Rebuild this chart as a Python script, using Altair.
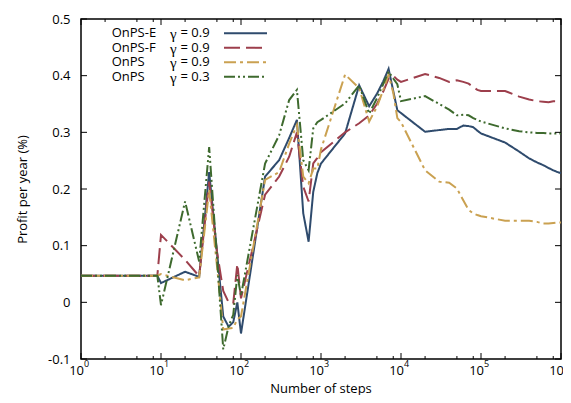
import altair as alt
import pandas as pd

# ---------------- data ----------------
steps = [1, 2, 3, 4, 5, 6, 7, 8, 9,
         10, 20, 30, 40, 50, 60, 70, 80, 90,
         100, 200, 300, 400, 500, 600, 700, 800, 900,
         1000, 2000, 3000, 4000, 5000, 6000, 7000, 8000, 9000,
         10000, 20000, 30000, 40000, 50000, 60000, 70000, 80000, 90000,
         100000, 200000, 300000, 400000, 500000, 600000, 700000, 800000, 900000,
         1000000]

onps_e_g09 = [0.047] * 9 + [
    0.034, 0.054, 0.045, 0.230, 0.090, -0.025, -0.043, -0.035, 0.000,
    -0.055, 0.222, 0.251, 0.290, 0.322, 0.157, 0.107, 0.195, 0.228,
    0.245, 0.298, 0.383, 0.346, 0.368, 0.390, 0.412, 0.373, 0.339,
    0.334, 0.301, 0.304, 0.306, 0.306, 0.312, 0.311, 0.309, 0.303,
    0.298, 0.282, 0.266, 0.254, 0.247, 0.242, 0.237, 0.233, 0.230,
    0.228]

onps_f_g09 = [0.047] * 9 + [
    0.119, 0.075, 0.046, 0.213, 0.090, 0.020, 0.000, -0.002, 0.068,
    0.007, 0.190, 0.222, 0.257, 0.300, 0.204, 0.178, 0.245, 0.255,
    0.265, 0.300, 0.316, 0.330, 0.350, 0.372, 0.395, 0.400, 0.393,
    0.389, 0.403, 0.396, 0.389, 0.392, 0.389, 0.386, 0.380, 0.375,
    0.373, 0.373, 0.363, 0.358, 0.355, 0.354, 0.353, 0.355, 0.355,
    0.355]

onps_g09 = [0.047] * 9 + [
    0.050, 0.039, 0.044, 0.198, 0.065, -0.048, -0.046, -0.045, -0.030,
    -0.025, 0.216, 0.230, 0.280, 0.313, 0.222, 0.210, 0.236, 0.236,
    0.270, 0.402, 0.378, 0.319, 0.345, 0.375, 0.402, 0.370, 0.325,
    0.318, 0.233, 0.213, 0.211, 0.201, 0.180, 0.163, 0.157, 0.154,
    0.152, 0.144, 0.144, 0.144, 0.142, 0.139, 0.139, 0.140, 0.141,
    0.141]

onps_g03 = [0.047] * 9 + [
    -0.005, 0.178, 0.072, 0.274, 0.080, -0.083, -0.042, -0.022, 0.048,
    0.012, 0.245, 0.295, 0.357, 0.375, 0.251, 0.233, 0.307, 0.318,
    0.322, 0.351, 0.383, 0.333, 0.360, 0.385, 0.407, 0.395, 0.385,
    0.355, 0.364, 0.350, 0.340, 0.330, 0.331, 0.330, 0.325, 0.322,
    0.319, 0.307, 0.302, 0.300, 0.299, 0.299, 0.298, 0.298, 0.298,
    0.298]

series_keys = ["OnPS-E 0.9", "OnPS-F 0.9", "OnPS 0.9", "OnPS 0.3"]
series_names = ["OnPS-E", "OnPS-F", "OnPS", "OnPS"]
series_gamma_values = ["= 0.9", "= 0.9", "= 0.9", "= 0.3"]
series_values = [onps_e_g09, onps_f_g09, onps_g09, onps_g03]
colors = ["#2f4b6d", "#9d3f4c", "#caa151", "#3e6a2e"]
dashes = [[1, 0], [16, 6], [12, 4, 3, 4], [11, 3, 2, 3, 2, 3]]

x_title = "Number of steps"
y_title = "Profit per year (%)"
x_major = [1, 10, 100, 1000, 10000, 100000, 1000000]
x_exponents = ["0", "1", "2", "3", "4", "5", "6"]
x_minor = [m * 10 ** k for k in range(6) for m in (2, 5, 8)]
y_ticks = [-0.1, 0.0, 0.1, 0.2, 0.3, 0.4, 0.5]

# ---------------- tables ----------------
rows = []
for key, vals in zip(series_keys, series_values):
    for i, (s, v) in enumerate(zip(steps, vals)):
        rows.append({"series": key, "steps": s, "value": v, "idx": i})
df = pd.DataFrame(rows)

legend_df = pd.DataFrame({
    "series": series_keys, "name": series_names,
    "gsym": ["γ"] * len(series_keys),
    "gval": series_gamma_values, "row": list(range(len(series_keys)))})
xmaj_df = pd.DataFrame({"t": x_major, "exp": x_exponents, "base": ["10"] * len(x_major)})
xmin_df = pd.DataFrame({"t": x_minor})
y_df = pd.DataFrame({"t": y_ticks})

FONT = "Open Sans"
W, H = 480, 340
xscale = alt.Scale(type="log", domain=[1, 1000000], nice=False)
yscale = alt.Scale(domain=[-0.1, 0.5], nice=False, zero=False)
cscale = alt.Scale(domain=series_keys, range=colors)
dscale = alt.Scale(domain=series_keys, range=dashes)

lines = alt.Chart(df).mark_line(strokeWidth=2, clip=True).encode(
    x=alt.X("steps:Q", scale=xscale, axis=None),
    y=alt.Y("value:Q", scale=yscale,
            axis=alt.Axis(values=y_ticks, ticks=False, domain=False, grid=False,
                          labelExpr="datum.value < 0 ? '-' + format(-datum.value, '.1f') : (datum.value == 0 ? '0' : format(datum.value, '.1f'))",
                          labelFont=FONT, labelFontSize=13, labelColor="black",
                          labelPadding=11,
                          title=y_title, titleFont=FONT,
                          titleFontSize=13, titleFontWeight="normal",
                          titleColor="black", titleX=-59, titleY=H / 2,
                          titleAngle=270, titleBaseline="middle",
                          titleAlign="center")),
    color=alt.Color("series:N", scale=cscale, legend=None),
    strokeDash=alt.StrokeDash("series:N", scale=dscale, legend=None),
    order=alt.Order("idx:Q"),
)

tick_col = "black"
xb_major = alt.Chart(xmaj_df).mark_rule(color=tick_col, strokeWidth=1).encode(
    x=alt.X("t:Q", scale=xscale, axis=None), y=alt.value(H), y2=alt.value(H - 6))
xt_major = alt.Chart(xmaj_df).mark_rule(color=tick_col, strokeWidth=1).encode(
    x=alt.X("t:Q", scale=xscale, axis=None), y=alt.value(0), y2=alt.value(6))
xb_minor = alt.Chart(xmin_df).mark_rule(color=tick_col, strokeWidth=1).encode(
    x=alt.X("t:Q", scale=xscale, axis=None), y=alt.value(H), y2=alt.value(H - 3))
xt_minor = alt.Chart(xmin_df).mark_rule(color=tick_col, strokeWidth=1).encode(
    x=alt.X("t:Q", scale=xscale, axis=None), y=alt.value(0), y2=alt.value(3))
yl_ticks = alt.Chart(y_df).mark_rule(color=tick_col, strokeWidth=1).encode(
    y=alt.Y("t:Q", scale=yscale, axis=None), x=alt.value(0), x2=alt.value(6))
yr_ticks = alt.Chart(y_df).mark_rule(color=tick_col, strokeWidth=1).encode(
    y=alt.Y("t:Q", scale=yscale, axis=None), x=alt.value(W), x2=alt.value(W - 6))

x_base = alt.Chart(xmaj_df).mark_text(align="right", baseline="alphabetic", dx=3,
                                      font=FONT, fontSize=13, color="black").encode(
    x=alt.X("t:Q", scale=xscale, axis=None), y=alt.value(H + 15.5), text="base:N")
x_exp = alt.Chart(xmaj_df).mark_text(align="left", baseline="alphabetic", dx=3,
                                     font=FONT, fontSize=9, color="black").encode(
    x=alt.X("t:Q", scale=xscale, axis=None), y=alt.value(H + 8), text="exp:N")
x_title_mark = alt.Chart(pd.DataFrame({"label": [x_title]})).mark_text(
    align="center", baseline="alphabetic", font=FONT, fontSize=13, color="black"
).encode(x=alt.value(W / 2), y=alt.value(H + 34), text="label:N")

row_scale = alt.Scale(domain=[0, 3], range=[14.3, 57.8])
leg_name = alt.Chart(legend_df).mark_text(align="left", baseline="middle",
                                          font=FONT, fontSize=13, color="black").encode(
    x=alt.value(30.7), y=alt.Y("row:Q", scale=row_scale, axis=None), text="name:N")
leg_gsym = alt.Chart(legend_df).mark_text(align="left", baseline="middle",
                                          font="Liberation Serif", fontSize=15,
                                          color="black", dy=1).encode(
    x=alt.value(89), y=alt.Y("row:Q", scale=row_scale, axis=None), text="gsym:N")
leg_gval = alt.Chart(legend_df).mark_text(align="left", baseline="middle",
                                          font=FONT, fontSize=13, color="black").encode(
    x=alt.value(99.5), y=alt.Y("row:Q", scale=row_scale, axis=None), text="gval:N")
leg_line = alt.Chart(legend_df).mark_rule(strokeWidth=2).encode(
    x=alt.value(143), x2=alt.value(186),
    y=alt.Y("row:Q", scale=row_scale, axis=None),
    color=alt.Color("series:N", scale=cscale, legend=None),
    strokeDash=alt.StrokeDash("series:N", scale=dscale, legend=None))

chart = alt.layer(
    lines, xb_major, xt_major, xb_minor, xt_minor, yl_ticks, yr_ticks,
    x_base, x_exp, x_title_mark, leg_name, leg_gsym, leg_gval, leg_line
).resolve_scale(y="independent").properties(
    width=W, height=H,
    autosize=alt.AutoSizeParams(type="none"),
    padding={"left": 73, "top": 11, "right": 2, "bottom": 36},
    background="white",
).configure_view(stroke="black", strokeWidth=1.5)

chart.save("out.html", embed_options={"renderer": "svg", "actions": False})
